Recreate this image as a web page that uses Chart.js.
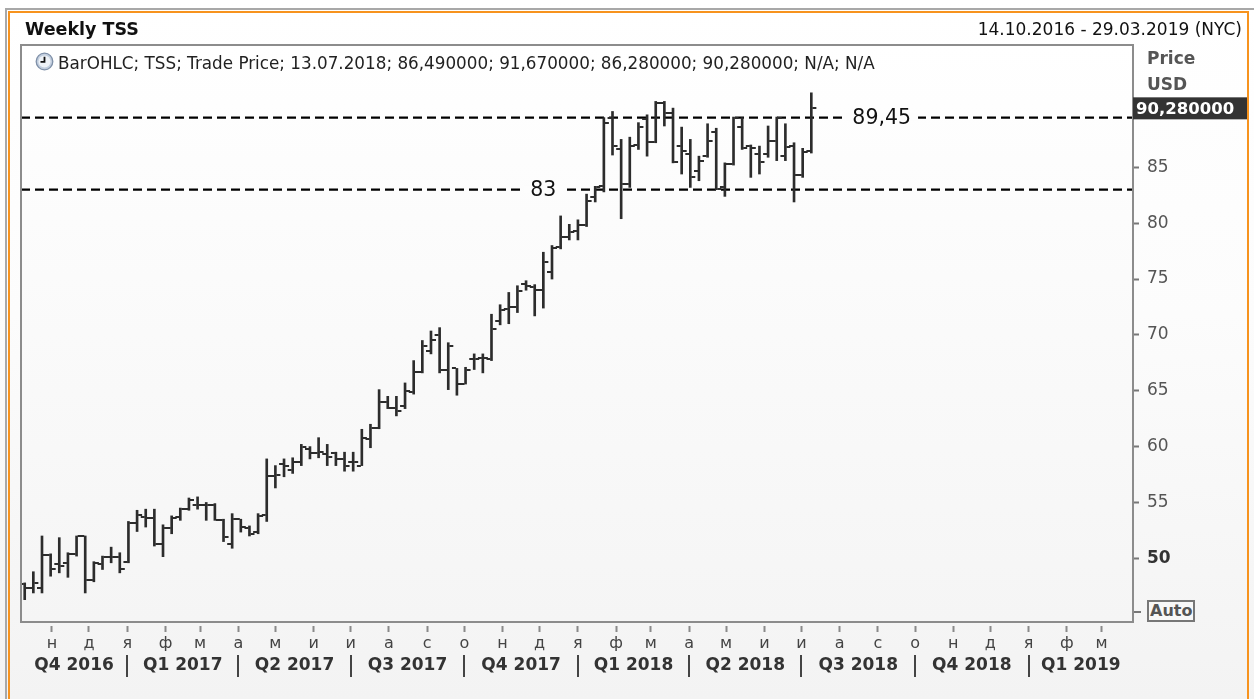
<!DOCTYPE html>
<html>
<head>
<meta charset="utf-8">
<script src="https://cdn.jsdelivr.net/npm/chart.js@4.4.1/dist/chart.umd.min.js"></script>
<style>
html, body { margin: 0; padding: 0; width: 1254px; height: 699px; overflow: hidden; background: #fff; font-family: 'DejaVu Sans', sans-serif; }
#bg { position: absolute; left: 0; top: 0; width: 1254px; height: 699px; background: linear-gradient(#ffffff 0%, #fcfcfc 45%, #f3f3f3 100%); }
#frameGray { position: absolute; left: 5px; top: 8px; width: 1260px; height: 720px; border-top: 2px solid #a8a8a8; border-left: 2px solid #a8a8a8; }
#frameOrange { position: absolute; left: 8px; top: 11px; width: 1237px; height: 720px; border: 2px solid #f7931e; }
#c { position: absolute; left: 0; top: 0; }
.txt { position: absolute; white-space: nowrap; line-height: 20px; }
#title { left: 25px; top: 19px; font-size: 17.5px; font-weight: bold; color: #111; }
#range { right: 12px; top: 19px; font-size: 17px; color: #111; }
#legend { left: 58px; top: 53px; font-size: 16.8px; color: #222; }
#icon { position: absolute; left: 35px; top: 52px; }
#price { left: 1147px; top: 48px; font-size: 17px; font-weight: bold; color: #555; }
#usd { left: 1147px; top: 74px; font-size: 17px; font-weight: bold; color: #555; }
#auto { left: 1147px; top: 600px; font-size: 16px; font-weight: bold; color: #555; border: 2px solid #777; padding: 0 1px; line-height: 18px; background: #f8f8f8; }
#autoTick { position: absolute; left: 1134px; top: 611px; width: 7px; height: 2px; background: #777; }
</style>
</head>
<body>
<div id="bg"></div>
<div id="frameGray"></div>
<div id="frameOrange"></div>
<canvas id="c" width="1254" height="699"></canvas>
<div class="txt" id="title">Weekly TSS</div>
<div class="txt" id="range">14.10.2016 - 29.03.2019 (NYC)</div>
<svg id="icon" width="19" height="19" viewBox="0 0 19 19">
  <circle cx="9.5" cy="9.5" r="8.3" fill="#c3cfdf" stroke="#7f90a8" stroke-width="1.3"/>
  <circle cx="9.5" cy="9.5" r="6" fill="#eef2f7"/>
  <path d="M9.5 4.8 V9.8 H5.5" stroke="#111" stroke-width="1.8" fill="none"/>
</svg>
<div class="txt" id="legend">BarOHLC; TSS; Trade Price; 13.07.2018; 86,490000; 91,670000; 86,280000; 90,280000; N/A; N/A</div>
<div class="txt" id="price">Price</div>
<div class="txt" id="usd">USD</div>
<div id="autoTick"></div>
<div class="txt" id="auto">Auto</div>

<script>
// weekly bars, first week starts Mon 10.10.2016, last one 13.07.2018
const opens = [
  47.7, 47.3, 47.3, 50.3, 49.5, 49.6, 50.4, 52.0, 48.1, 49.5,
  50.1, 50.1, 49.7, 53.2, 53.7, 53.6, 51.3, 52.7, 53.7, 54.4,
  54.8, 54.8, 54.8, 53.4, 51.3, 53.5, 52.75, 52.35, 53.9, 57.4,
  58.4, 57.9, 58.6, 59.8, 59.4, 59.3, 59.4, 58.9, 58.6, 58.3,
  60.7, 61.65, 64.0, 63.5, 63.6, 64.9, 66.7, 68.6, 70.0, 66.9,
  67.0, 65.6, 67.8, 67.9, 67.8, 71.2, 72.3, 72.5, 74.6, 74.3,
  74.0, 75.6, 77.9, 78.8, 79.3, 79.8, 82.3, 83.3, 89.4, 86.6,
  83.5, 87.0, 89.3, 87.3, 90.8, 89.9, 86.9, 86.2, 84.7, 86.0,
  88.2, 83.2, 85.3, 88.6, 86.9, 86.2, 86.2, 87.4, 86.0, 86.9,
  84.3, 86.49
];
const highs = [
  47.8, 48.8, 52.0, 50.4, 51.85, 50.5, 52.0, 52.0, 49.7, 50.2,
  51.0, 50.5, 53.3, 54.3, 54.4, 54.4, 53.0, 53.8, 54.5, 55.4,
  55.5, 55.0, 54.9, 53.5, 54.0, 53.5, 52.9, 54.0, 58.9, 58.3,
  58.9, 59.0, 60.2, 60.0, 60.8, 60.2, 59.5, 59.5, 59.5, 61.55,
  62.0, 65.1, 64.5, 64.5, 65.7, 67.7, 69.5, 70.35, 70.65, 69.3,
  67.0, 67.1, 68.3, 68.3, 71.85, 72.7, 73.8, 74.4, 74.85, 74.5,
  77.4, 78.0, 80.65, 79.9, 80.3, 82.6, 83.3, 89.45, 90.0, 87.5,
  87.7, 89.0, 89.7, 90.9, 90.9, 90.3, 88.6, 87.5, 86.0, 88.9,
  88.5, 85.4, 89.5, 89.45, 87.0, 86.9, 88.7, 89.5, 88.9, 87.2,
  86.7, 91.67
];
const lows = [
  46.3, 46.9, 46.9, 48.4, 48.7, 48.3, 50.2, 46.9, 47.9, 49.0,
  49.6, 48.7, 49.6, 52.4, 52.8, 51.1, 50.15, 52.2, 53.4, 54.3,
  54.4, 53.4, 53.4, 51.5, 50.9, 52.35, 52.0, 52.2, 53.3, 56.3,
  57.3, 57.6, 58.3, 58.9, 59.0, 58.3, 58.3, 57.8, 57.8, 58.3,
  59.9, 61.6, 63.4, 62.75, 63.4, 64.7, 66.6, 68.3, 66.6, 65.1,
  64.6, 65.6, 66.9, 66.6, 67.7, 70.9, 71.0, 72.0, 74.0, 71.7,
  72.4, 75.0, 77.7, 78.5, 78.5, 79.7, 81.9, 82.8, 86.1, 80.4,
  83.2, 86.6, 86.0, 87.2, 88.7, 85.4, 84.4, 83.2, 83.8, 85.9,
  83.0, 82.4, 85.2, 86.6, 84.1, 84.4, 85.9, 85.6, 85.6, 81.9,
  84.1, 86.28
];
const closes = [
  47.3, 47.8, 50.3, 49.0, 49.3, 50.4, 52.0, 48.1, 49.6, 50.1,
  50.1, 49.0, 53.2, 53.9, 53.6, 51.25, 52.7, 53.6, 54.4, 55.2,
  54.8, 54.8, 53.4, 51.9, 53.5, 52.8, 52.2, 53.8, 57.4, 57.5,
  58.3, 58.6, 60.0, 59.4, 59.5, 59.1, 58.9, 58.3, 58.6, 60.75,
  61.65, 64.0, 63.5, 63.2, 65.0, 66.7, 69.0, 69.5, 66.9, 69.0,
  65.6, 66.9, 67.8, 67.9, 70.5, 72.2, 72.5, 73.9, 74.4, 74.0,
  76.5, 77.8, 78.8, 79.2, 79.8, 82.0, 83.2, 89.0, 86.9, 83.5,
  86.9, 88.6, 87.3, 90.8, 89.9, 85.5, 86.5, 84.1, 85.6, 87.4,
  83.1, 85.3, 89.45, 86.7, 86.7, 85.5, 87.4, 89.4, 86.8, 84.3,
  86.4, 90.28
];

const levelValues = [83, 89.45];
const levelLabels = ['83', '89,45'];
const levelLabelDays = [420, 694];

const yTickValues = [50, 55, 60, 65, 70, 75, 80, 85];
const monthLetters = ['я', 'ф', 'м', 'а', 'м', 'и', 'и', 'а', 'с', 'о', 'н', 'д'];
const quarterLabels = ['Q4 2016', 'Q1 2017', 'Q2 2017', 'Q3 2017', 'Q4 2017',
  'Q1 2018', 'Q2 2018', 'Q3 2018', 'Q4 2018', 'Q1 2019'];

const FIRST_MONDAY = Date.UTC(2016, 9, 10);
const DAY = 86400000;
const X_MIN = -3, X_MAX = 897.5;
const Y_MIN = 44.3, Y_MAX = 95.95;
const BAR_COLOR = '#2c2c2c';

function dayOf(y, m, d) {
  return (Date.UTC(y, m, d) - FIRST_MONDAY) / DAY;
}

const weekX = opens.map((v, i) => i * 7);

const monthTicks = [];
for (let y = 2016; y <= 2019; y++) {
  for (let m = 0; m < 12; m++) {
    const v = dayOf(y, m, 1);
    if (v > X_MIN && v < X_MAX) monthTicks.push({value: v});
  }
}

// open tick on the left, close tick on the right
function tickImage(left) {
  const c = document.createElement('canvas');
  c.width = 12; c.height = 2;
  const g = c.getContext('2d');
  g.fillStyle = BAR_COLOR;
  g.fillRect(left ? 1 : 7, 0, 4, 2);
  return c;
}

function isFifty(c) {
  return c && c.tick && c.tick.value === 50;
}

const framePlugin = {
  id: 'frame',
  beforeDatasetsDraw(chart) {
    const {ctx, chartArea: a} = chart;
    const g = ctx.createLinearGradient(0, a.top, 0, a.bottom);
    g.addColorStop(0, '#ffffff');
    g.addColorStop(1, '#f5f5f5');
    ctx.save();
    ctx.fillStyle = g;
    ctx.fillRect(a.left, a.top, a.right - a.left, a.bottom - a.top);
    ctx.restore();
  },
  afterDatasetsDraw(chart) {
    const {ctx, chartArea: a, scales: {x, y}} = chart;
    ctx.save();
    ctx.font = '20.5px "DejaVu Sans"';
    ctx.textAlign = 'center';
    ctx.textBaseline = 'middle';
    levelValues.forEach((v, i) => {
      const px = x.getPixelForValue(levelLabelDays[i]);
      const py = y.getPixelForValue(v);
      const w = ctx.measureText(levelLabels[i]).width + 14;
      ctx.fillStyle = '#fdfdfd';
      ctx.fillRect(px - w / 2, py - 4, w, 8);
      ctx.fillStyle = '#111';
      ctx.fillText(levelLabels[i], px, py + 1);
    });
    ctx.strokeStyle = '#8c8c8c';
    ctx.lineWidth = 2;
    ctx.strokeRect(a.left, a.top, a.right - a.left, a.bottom - a.top);
    ctx.restore();
  },
  afterDraw(chart) {
    const {ctx, chartArea: a, scales: {x, y}} = chart;
    ctx.save();
    // quarter row
    const bounds = [];
    for (let q = 0; q <= quarterLabels.length; q++) {
      const m = 9 + q * 3;
      bounds.push(dayOf(2016 + Math.floor(m / 12), m % 12, 1));
    }
    ctx.strokeStyle = '#444';
    ctx.lineWidth = 2;
    bounds.forEach(b => {
      if (b > X_MIN && b < X_MAX) {
        const px = Math.round(x.getPixelForValue(b));
        ctx.beginPath();
        ctx.moveTo(px, 655);
        ctx.lineTo(px, 677);
        ctx.stroke();
      }
    });
    ctx.font = 'bold 17px "DejaVu Sans"';
    ctx.fillStyle = '#333';
    ctx.textAlign = 'center';
    ctx.textBaseline = 'middle';
    quarterLabels.forEach((lab, q) => {
      const s = Math.max(bounds[q], X_MIN), e = Math.min(bounds[q + 1], X_MAX);
      const cx = (x.getPixelForValue(s) + x.getPixelForValue(e)) / 2;
      ctx.fillText(lab, cx, 666);
    });
    // last price box
    const last = closes[closes.length - 1];
    const py = y.getPixelForValue(last);
    ctx.fillStyle = '#333';
    ctx.fillRect(a.right, py - 11, 114, 22);
    ctx.fillStyle = '#fff';
    ctx.textAlign = 'left';
    ctx.font = 'bold 16.5px "DejaVu Sans"';
    ctx.fillText(last.toFixed(6).replace('.', ','), a.right + 3, py + 1);
    ctx.restore();
  }
};

Chart.defaults.font.family = 'DejaVu Sans';

new Chart(document.getElementById('c'), {
  type: 'bar',
  data: {
    datasets: [
      {
        type: 'line',
        data: [{x: X_MIN, y: levelValues[0]}, {x: X_MAX, y: levelValues[0]}],
        borderColor: '#000', borderWidth: 2.2, borderDash: [9, 5],
        pointRadius: 0, order: 5
      },
      {
        type: 'line',
        data: [{x: X_MIN, y: levelValues[1]}, {x: X_MAX, y: levelValues[1]}],
        borderColor: '#000', borderWidth: 2.2, borderDash: [9, 5],
        pointRadius: 0, order: 5
      },
      {
        type: 'bar',
        data: weekX.map((v, i) => ({x: v, y: [lows[i], highs[i]]})),
        backgroundColor: BAR_COLOR,
        barThickness: 2,
        grouped: false,
        order: 3
      },
      {
        type: 'scatter',
        data: weekX.map((v, i) => ({x: v, y: opens[i]})),
        pointStyle: tickImage(true),
        pointRadius: 3, showLine: false, order: 1
      },
      {
        type: 'scatter',
        data: weekX.map((v, i) => ({x: v, y: closes[i]})),
        pointStyle: tickImage(false),
        pointRadius: 3, showLine: false, order: 1
      }
    ]
  },
  options: {
    responsive: false,
    animation: false,
    events: [],
    layout: {padding: {left: 21, top: 45, right: 0, bottom: 0}},
    plugins: {legend: {display: false}, tooltip: {enabled: false}},
    scales: {
      x: {
        type: 'linear',
        min: X_MIN, max: X_MAX,
        offset: false,
        afterBuildTicks: scale => { scale.ticks = monthTicks.map(t => ({value: t.value})); },
        afterFit: scale => { scale.height = 77; },
        border: {display: false},
        grid: {
          offset: false, drawOnChartArea: false,
          tickLength: 10, tickWidth: 2, tickColor: '#8a8a8a',
          tickBorderDash: [0, 4, 6, 60]
        },
        ticks: {
          autoSkip: false, maxRotation: 0, padding: 2,
          color: '#444', font: {size: 16},
          callback: v => monthLetters[new Date(FIRST_MONDAY + v * DAY).getUTCMonth()]
        }
      },
      y: {
        type: 'linear',
        position: 'right',
        min: Y_MIN, max: Y_MAX,
        beginAtZero: false,
        afterBuildTicks: scale => { scale.ticks = yTickValues.map(v => ({value: v})); },
        afterFit: scale => { scale.width = 121; },
        border: {display: false},
        grid: {drawOnChartArea: false, tickLength: 6, tickWidth: 2, tickColor: '#777'},
        ticks: {
          padding: 8,
          color: c => isFifty(c) ? '#333' : '#555',
          font: c => isFifty(c) ? {size: 17, weight: 'bold'} : {size: 17},
          callback: v => String(v)
        }
      }
    }
  },
  plugins: [framePlugin]
});
</script>
</body>
</html>
